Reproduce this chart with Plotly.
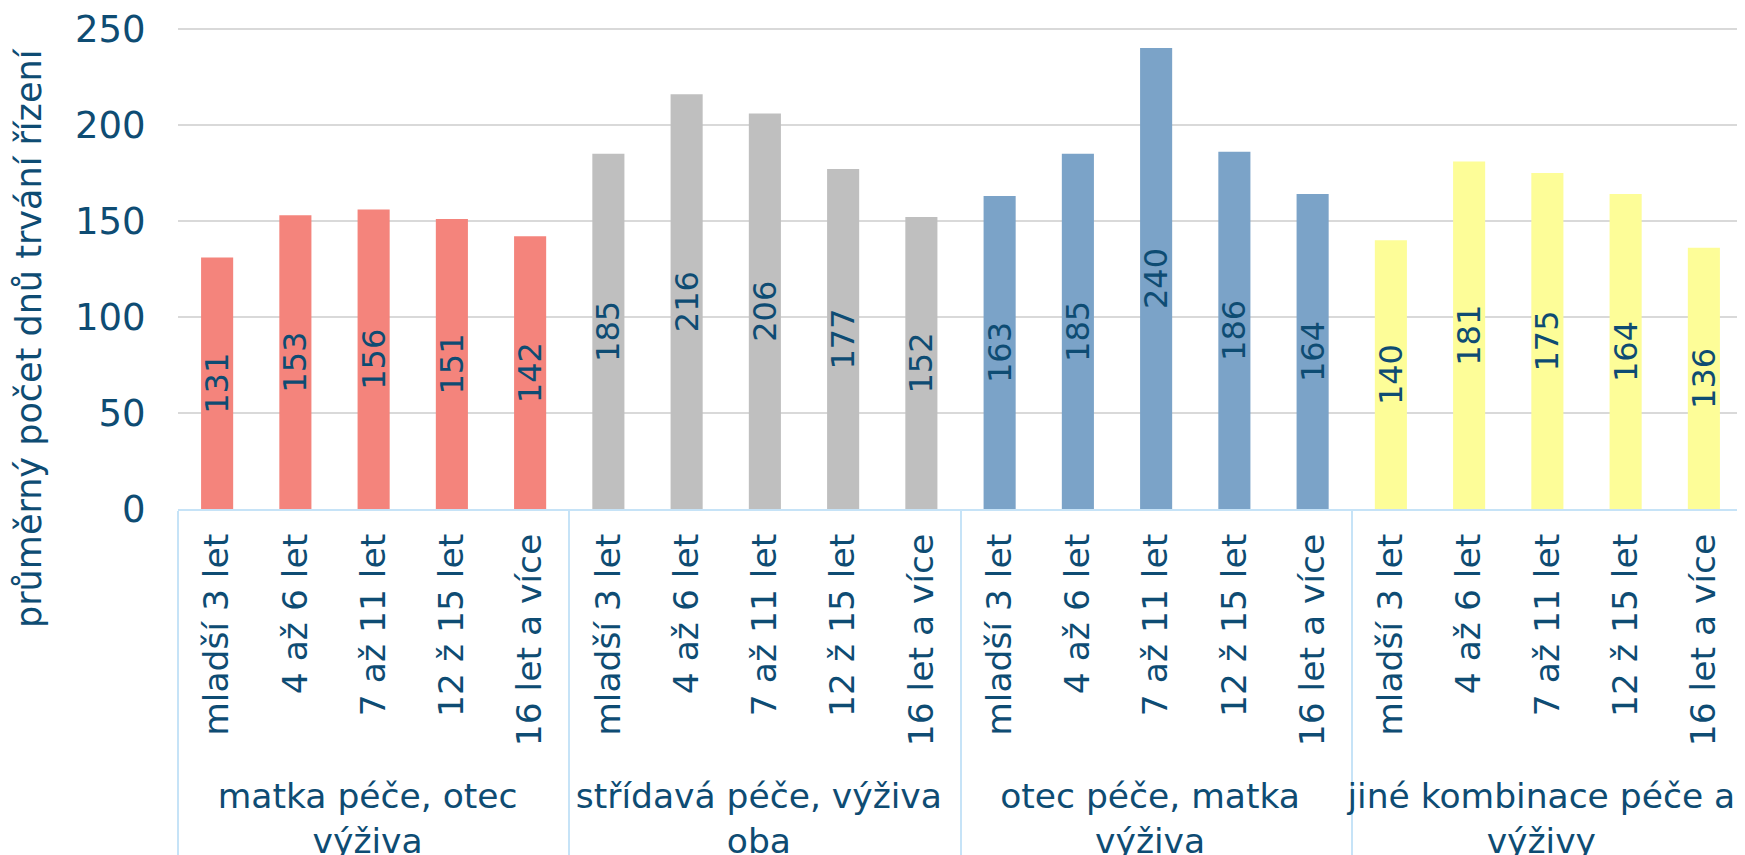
import plotly.graph_objects as go

groups = ["matka péče, otec<br>výživa", "střídavá péče, výživa<br>oba",
          "otec péče, matka<br>výživa", "jiné kombinace péče a<br>výživy"]
ages = ["mladší 3 let", "4 až 6 let", "7 až 11 let", "12 ž 15 let", "16 let a více"]
values_matka = [131, 153, 156, 151, 142]
values_stridava = [185, 216, 206, 177, 152]
values_otec = [163, 185, 240, 186, 164]
values_jine = [140, 181, 175, 164, 136]
group_colors = ["#F4847C", "#BFBFBF", "#7BA3C8", "#FDFD98"]
y_ticks = [0, 50, 100, 150, 200, 250]
y_title = "průměrný počet dnů trvání řízení"

series = [values_matka, values_stridava, values_otec, values_jine]
xg, xc, yv, cols = [], [], [], []
for g, vals, c in zip(groups, series, group_colors):
    for a, v in zip(ages, vals):
        xg.append(g)
        # leading thin space only adds a little spacing below the rotated label
        xc.append("\u2009" + a)
        yv.append(v)
        cols.append(c)

TXT = "#0E4C73"
FONT = "DejaVu Sans"

fig = go.Figure()
fig.add_trace(go.Bar(
    x=[xg, xc], y=yv,
    marker=dict(color=cols, line=dict(width=0)),
    text=[str(v) for v in yv],
    textposition="inside",
    insidetextanchor="middle",
    textangle=-90,
    textfont=dict(family=FONT, size=32, color=TXT),
    hoverinfo="skip",
))

# page body has an 8px default margin -> figure is sized/offset to compensate
fig.update_layout(
    width=1737, height=847,
    margin=dict(l=170, r=2, t=19, b=346),
    paper_bgcolor="white", plot_bgcolor="white",
    bargap=0.59,
    showlegend=False,
    uniformtext=dict(minsize=32, mode="show"),
    font=dict(family=FONT, color=TXT),
)
fig.update_xaxes(
    type="multicategory",
    tickangle=-90,
    tickfont=dict(family=FONT, size=34.5, color=TXT),
    ticklabelstandoff=9,
    showline=True, linecolor="#C6E3F7", linewidth=2,
    showdividers=True, dividercolor="#C6E3F7", dividerwidth=2,
    ticks="", showgrid=False,
    automargin=False,
)
fig.update_yaxes(
    range=[0, 251],
    tickvals=y_ticks,
    tickfont=dict(family=FONT, size=37, color=TXT),
    ticklabeloverflow="allow",
    showgrid=True, gridcolor="#D9D9D9", gridwidth=2,
    zeroline=False, showline=False,
    ticks="outside", ticklen=24, tickcolor="rgba(0,0,0,0)",
    automargin=False,
)
fig.add_annotation(
    text=y_title, textangle=-90,
    xref="paper", yref="paper", x=0, y=(501 - 330) / 482,
    xshift=-149, xanchor="center", yanchor="middle",
    showarrow=False,
    font=dict(family=FONT, size=35, color=TXT),
)

fig.write_html("out.html")
